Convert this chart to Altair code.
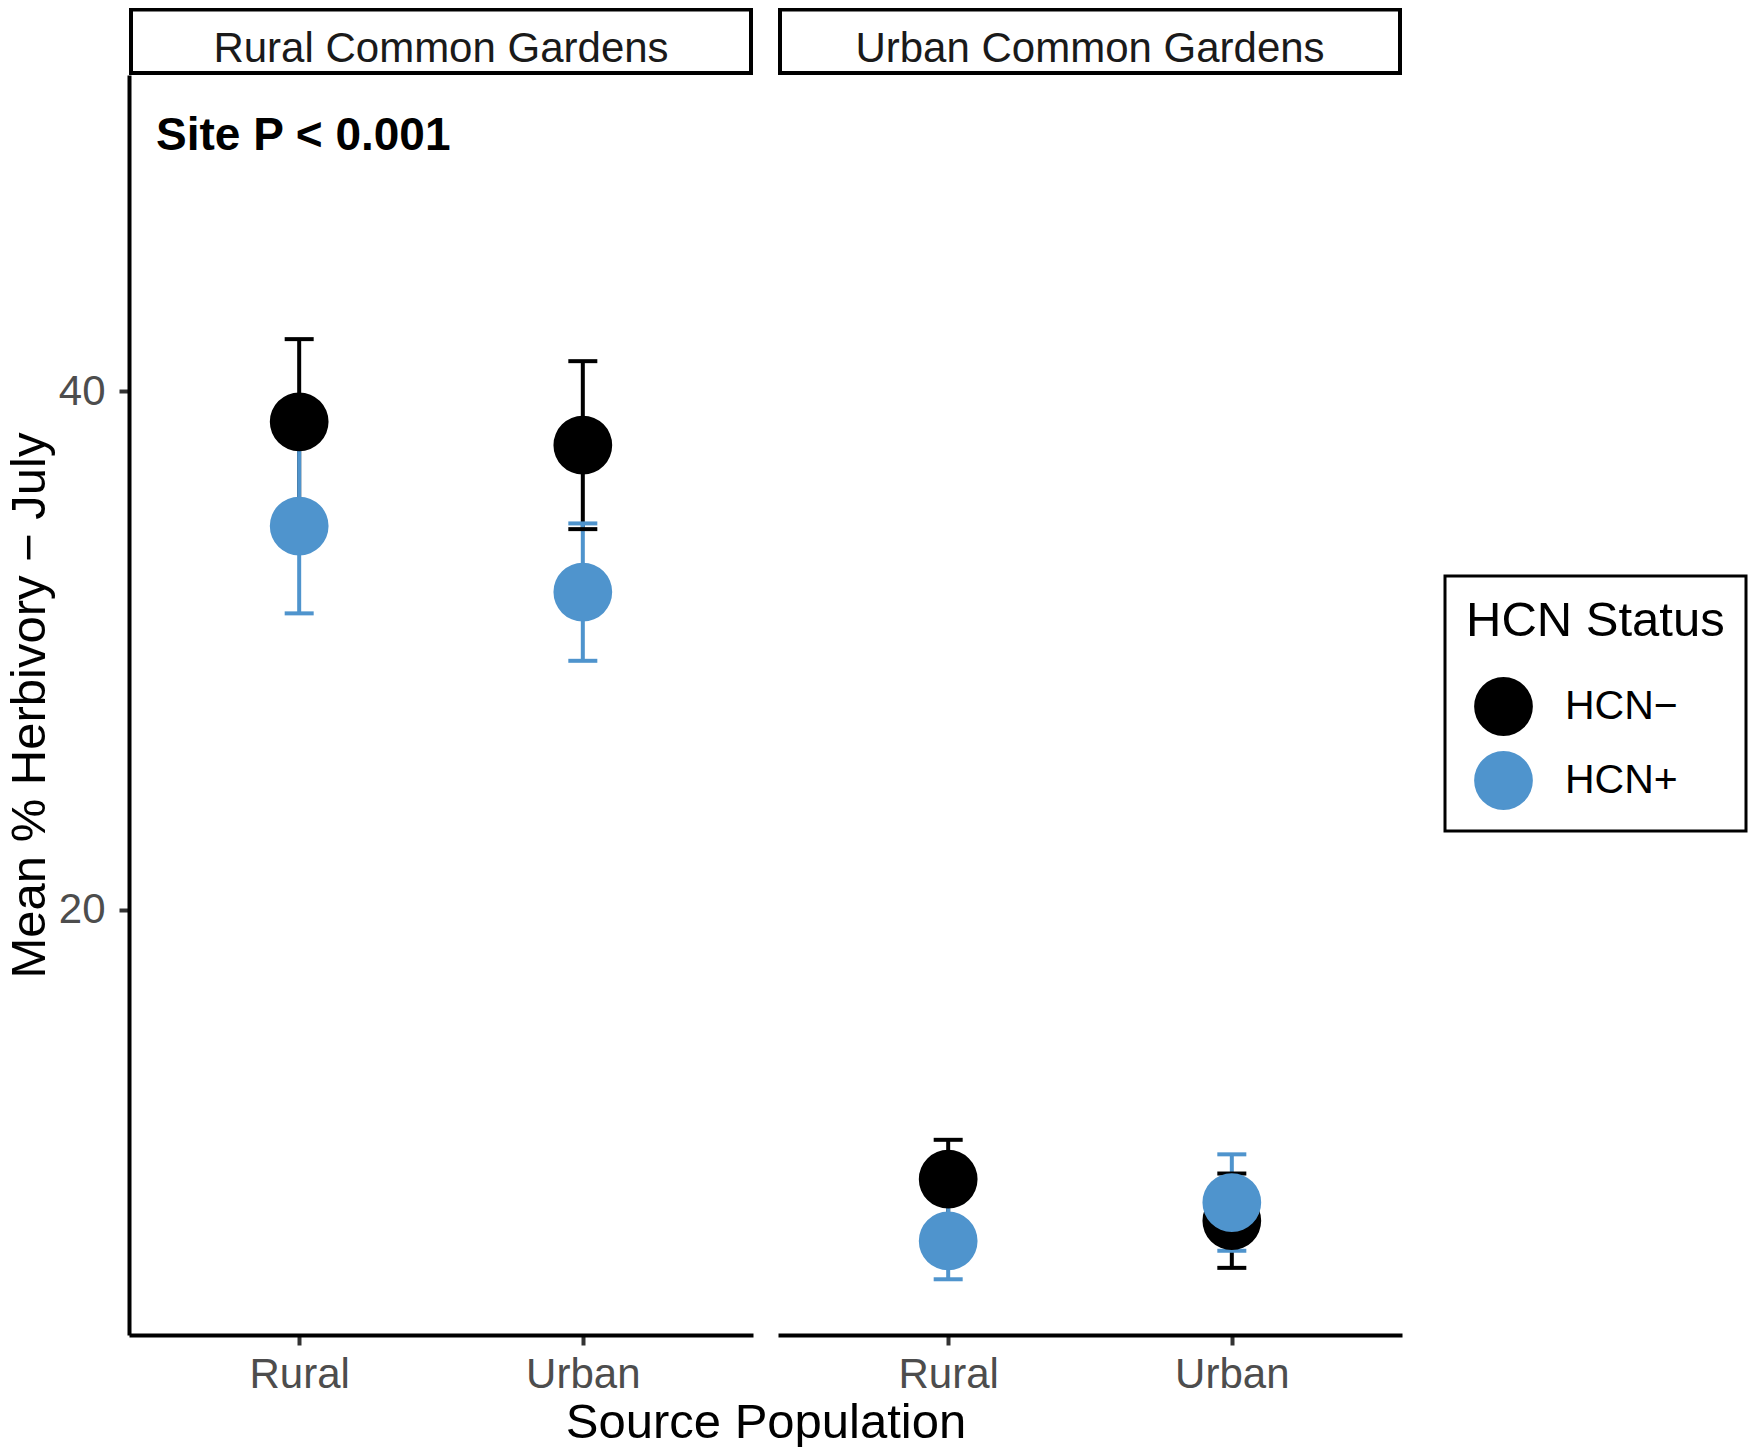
import altair as alt
import pandas as pd

# ---- data ----
gardens = ["Rural Common Gardens", "Urban Common Gardens"]
sources = ["Rural", "Urban"]
hcn_levels = ["HCN−", "HCN+"]
hcn_colors = ["#000000", "#4F94CD"]

garden_col = ["Rural Common Gardens"] * 4 + ["Urban Common Gardens"] * 4
source_col = ["Rural", "Urban", "Rural", "Urban"] * 2
hcn_col = ["HCN−", "HCN−", "HCN+", "HCN+"] * 2
mean_vals = [38.82, 37.92, 34.80, 32.25, 9.60, 8.00, 7.22, 8.70]
se_vals = [3.19, 3.24, 3.37, 2.65, 1.52, 1.82, 1.48, 1.86]

annotation_text = "Site P < 0.001"
annotation_y = 50
y_domain = [3.59, 52.2]
y_ticks = [20, 40]

df = pd.DataFrame({
    "garden": garden_col,
    "source": source_col,
    "hcn": hcn_col,
    "mean": mean_vals,
    "se": se_vals,
})
df["lo"] = df["mean"] - df["se"]
df["hi"] = df["mean"] + df["se"]

FONT = "Liberation Sans"
W = 624
H = 1260
PT = 3450  # symbol size (bounding-square area)

yscale = alt.Scale(domain=y_domain, nice=False, zero=False)
xscale = alt.Scale(type="point", padding=0.6, domain=sources)
cscale = alt.Scale(domain=hcn_levels, range=hcn_colors)


def panel(g, first):
    d = df[df["garden"] == g]
    if first:
        xaxis = alt.Axis(title="Source Population", titleX=W + 12.5, titleAlign="center",
                         titleAnchor="middle", titlePadding=3, labelPadding=9, labelAngle=0)
        yaxis = alt.Axis(title="Mean % Herbivory − July", values=y_ticks, labelPadding=14,
                         titlePadding=4)
    else:
        xaxis = alt.Axis(title=None, labelPadding=9, labelAngle=0)
        yaxis = None
    x = alt.X("source:N", scale=xscale, axis=xaxis, sort=sources)
    color = alt.Color("hcn:N", scale=cscale, sort=hcn_levels,
                      legend=alt.Legend(title="HCN Status"))
    base = alt.Chart(d)
    rules = base.mark_rule(strokeWidth=4).encode(
        x=x, y=alt.Y("lo:Q", scale=yscale, axis=yaxis), y2="hi:Q", color=color)
    cap_hi = base.mark_tick(orient="horizontal", size=29, thickness=4, opacity=1).encode(
        x=x, y=alt.Y("hi:Q", scale=yscale), color=color)
    cap_lo = base.mark_tick(orient="horizontal", size=29, thickness=4, opacity=1).encode(
        x=x, y=alt.Y("lo:Q", scale=yscale), color=color)
    points = base.mark_circle(size=PT, opacity=1).encode(
        x=x, y=alt.Y("mean:Q", scale=yscale), color=color)
    sdf = pd.DataFrame({"g": [g]})
    strip_rect = alt.Chart(sdf).mark_rect(fill="white", stroke="black", strokeWidth=4).encode(
        x=alt.value(2), x2=alt.value(W - 2), y=alt.value(-65.5), y2=alt.value(-2))
    strip_text = alt.Chart(sdf).mark_text(fontSize=42, font=FONT, color="#1A1A1A",
                                          baseline="alphabetic", align="center").encode(
        x=alt.value(W / 2), y=alt.value(-13), text="g:N")
    layers = [rules, cap_hi, cap_lo, points, strip_rect, strip_text]
    if first:
        ann = alt.Chart(sdf).mark_text(text=annotation_text, fontSize=46, fontWeight="bold",
                                       font=FONT, color="black", align="left",
                                       baseline="middle", dy=4).encode(
            x=alt.value(27), y=alt.datum(annotation_y))
        layers.append(ann)
    return alt.layer(*layers).properties(width=W, height=H)


chart = alt.hconcat(panel(gardens[0], True), panel(gardens[1], False),
                    spacing=25, bounds="flush").resolve_scale(
    x="independent", y="independent", color="shared"
).properties(
    padding={"left": -3, "top": -1, "right": 0, "bottom": 0}
).configure(font=FONT).configure_view(stroke=None).configure_axis(
    grid=False, domainColor="black", domainWidth=4, tickColor="#333333", tickWidth=4,
    tickSize=10, labelFontSize=42, labelColor="#4D4D4D", titleFontSize=49,
    titleColor="black", titleFontWeight="normal", labelFont=FONT, titleFont=FONT
).configure_legend(
    orient="none", legendX=1316, legendY=501, strokeColor="black", strokeWidth=3,
    padding=21, cornerRadius=0, fillColor="white", titleFontSize=49,
    titleFontWeight="normal", titleColor="black", titleFont=FONT, titlePadding=31,
    titleLimit=1000, labelFontSize=41, labelColor="black", labelFont=FONT,
    labelLimit=1000, symbolSize=PT, symbolType="circle", symbolStrokeWidth=0,
    symbolOffset=8, labelOffset=32, rowPadding=15
)

chart.save("out.html", embed_options={"renderer": "svg", "actions": False})
